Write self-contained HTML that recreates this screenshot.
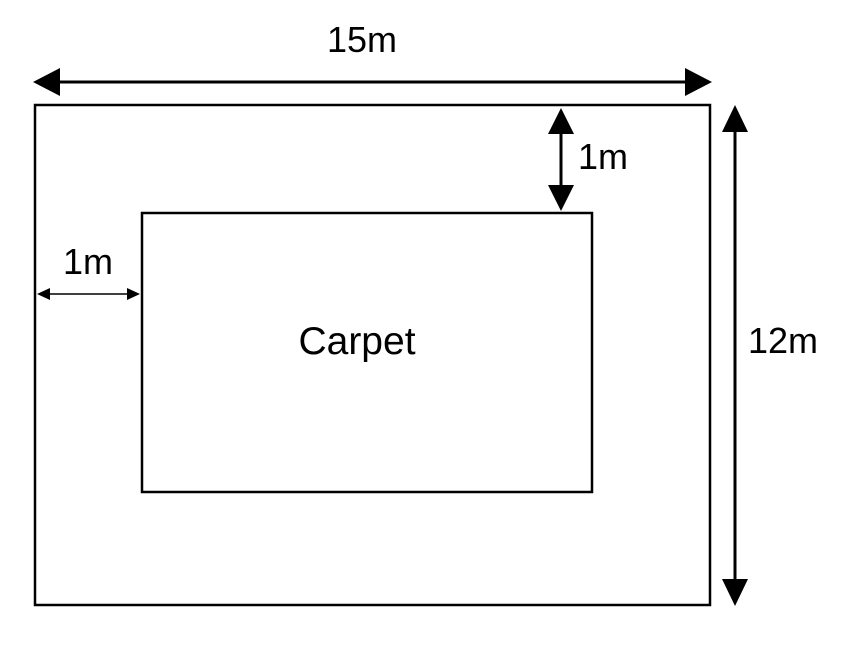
<!DOCTYPE html>
<html>
<head>
<meta charset="utf-8">
<style>
  html,body{margin:0;padding:0;background:#fff;}
  svg{display:block;}
  text{font-family:"Liberation Sans",Arial,sans-serif;fill:#000;}
</style>
</head>
<body>
<svg width="849" height="647" viewBox="0 0 849 647" xmlns="http://www.w3.org/2000/svg">
  <rect x="35" y="105" width="675" height="500" fill="none" stroke="#000" stroke-width="2.5"/>
  <rect x="142" y="213" width="450" height="279" fill="none" stroke="#000" stroke-width="2.5"/>

  <g>
    <line x1="55" y1="82" x2="690" y2="82" stroke="#000" stroke-width="3"/>
    <polygon points="33,82 60,68 60,96" fill="#000"/>
    <polygon points="712,82 685,68 685,96" fill="#000"/>
  </g>
  <text x="362" y="52" font-size="36" text-anchor="middle">15m</text>

  <g>
    <line x1="735" y1="125" x2="735" y2="585" stroke="#000" stroke-width="3"/>
    <polygon points="735,105 722,132 748,132" fill="#000"/>
    <polygon points="735,606 722,579 748,579" fill="#000"/>
  </g>
  <text x="783" y="353" font-size="36" text-anchor="middle">12m</text>

  <g>
    <line x1="561" y1="125" x2="561" y2="195" stroke="#000" stroke-width="3"/>
    <polygon points="561,108 548,134 574,134" fill="#000"/>
    <polygon points="561,211 548,185 574,185" fill="#000"/>
  </g>
  <text x="603" y="169" font-size="36" text-anchor="middle">1m</text>

  <g>
    <line x1="40" y1="294" x2="137" y2="294" stroke="#000" stroke-width="1.5"/>
    <polygon points="37,294 50,288 50,300" fill="#000"/>
    <polygon points="140,294 127,288 127,300" fill="#000"/>
  </g>
  <text x="88" y="274" font-size="36" text-anchor="middle">1m</text>

  <text x="357" y="354" font-size="39" text-anchor="middle">Carpet</text>
</svg>
</body>
</html>
